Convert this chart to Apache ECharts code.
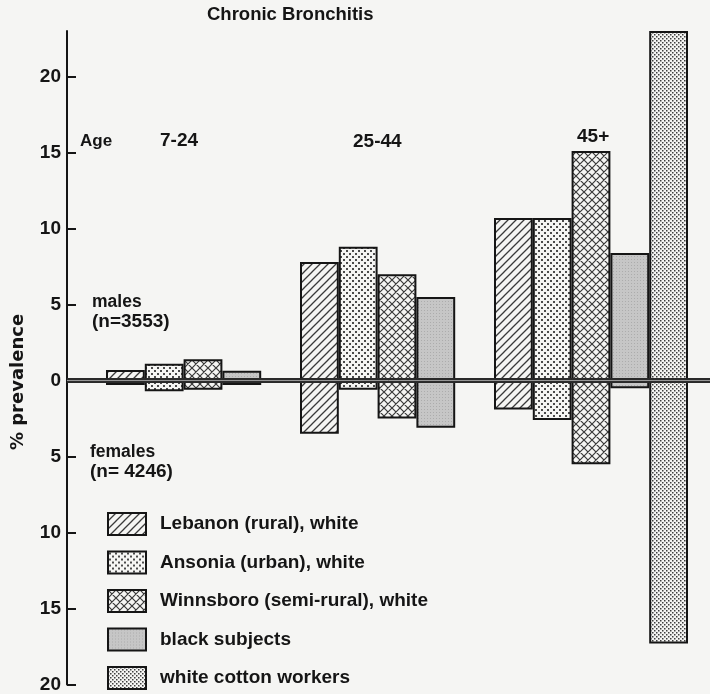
<!DOCTYPE html>
<html><head><meta charset="utf-8">
<script src="https://cdn.jsdelivr.net/npm/echarts@6/dist/echarts.min.js"></script>
<style>html,body{margin:0;padding:0;background:#f5f5f3}#c{width:710px;height:694px}</style>
</head><body><div id="c"></div>
<script>
// ---- data ----
const ageGroups = ['7-24', '25-44', '45+'];
const seriesNames = ['Lebanon (rural), white', 'Ansonia (urban), white', 'Winnsboro (semi-rural), white', 'black subjects', 'white cotton workers'];
const lebanonMales   = [0.7, 7.8, 10.7];
const lebanonFemales = [0.3, 3.5, 1.9];
const ansoniaMales   = [1.1, 8.8, 10.7];
const ansoniaFemales = [0.7, 0.6, 2.6];
const winnsboroMales   = [1.4, 7.0, 15.1];
const winnsboroFemales = [0.6, 2.5, 5.5];
const blackMales   = [0.65, 5.5, 8.4];
const blackFemales = [0.3, 3.1, 0.5];
const cottonMales   = [null, null, 23.0];
const cottonFemales = [null, null, 17.3];
const yTicks = [-20, -15, -10, -5, 0, 5, 10, 15, 20];

// ---- patterns ----
const BG = '#f5f5f3';
function mk(w, h, draw) {
  const c = document.createElement('canvas'); c.width = w; c.height = h;
  const g = c.getContext('2d'); g.fillStyle = BG; g.fillRect(0, 0, w, h); draw(g);
  return { image: c, repeat: 'repeat' };
}
const hatch = mk(8, 8, g => { g.strokeStyle = '#3a3a3a'; g.lineWidth = 1.3; g.beginPath();
  g.moveTo(-1, 9); g.lineTo(9, -1); g.moveTo(-1, 1); g.lineTo(1, -1); g.moveTo(7, 9); g.lineTo(9, 7); g.stroke(); });
const dots = mk(6, 6, g => { g.fillStyle = '#4a4a4a'; g.fillRect(1, 1, 2, 2); g.fillRect(4, 4, 2, 2); });
const cross = mk(8, 8, g => { g.strokeStyle = '#3a3a3a'; g.lineWidth = 1.2; g.beginPath();
  g.moveTo(-1, 9); g.lineTo(9, -1); g.moveTo(-1, 1); g.lineTo(1, -1); g.moveTo(7, 9); g.lineTo(9, 7);
  g.moveTo(-1, -1); g.lineTo(9, 9); g.moveTo(7, -1); g.lineTo(9, 1); g.moveTo(-1, 7); g.lineTo(1, 9); g.stroke(); });
const gray = mk(3, 3, g => { g.fillStyle = '#c6c6c6'; g.fillRect(0, 0, 3, 3); g.fillStyle = '#acacac'; g.fillRect(1, 1, 1, 1); });
const cotton = mk(4, 4, g => { g.fillStyle = '#3e3e3e'; g.fillRect(0, 0, 1.5, 1.5); g.fillRect(2, 2, 1.5, 1.5); });
const fills = [hatch, dots, cross, gray, cotton];

const males = [lebanonMales, ansoniaMales, winnsboroMales, blackMales, cottonMales];
const females = [lebanonFemales, ansoniaFemales, winnsboroFemales, blackFemales, cottonFemales];

const FONT = 'Liberation Sans';
const series = [];
seriesNames.forEach((name, i) => {
  const base = { name, type: 'bar', stack: 's' + i, barGap: '0%', barCategoryGap: '0%',
    itemStyle: { color: fills[i], borderColor: '#151515', borderWidth: 2 }, emphasis: { disabled: true } };
  series.push(Object.assign({}, base, { data: males[i] }));
  series.push(Object.assign({}, base, { data: females[i].map(v => v == null ? null : -v) }));
});

const chart = echarts.init(document.getElementById('c'), null, { renderer: 'canvas' });
const txt = (text, x, y, size, extra) => Object.assign({ type: 'text', x, y, z: 10,
  style: Object.assign({ text, font: 'bold ' + size + 'px "' + FONT + '"', fill: '#151515', textVerticalAlign: 'middle' }, extra || {}) });

chart.setOption({
  animation: false,
  backgroundColor: BG,
  grid: { left: 106, right: 22, top: 31, bottom: 4, containLabel: false },
  xAxis: { type: 'category', data: ageGroups, show: false },
  yAxis: {
    type: 'value', min: -20, max: 23, interval: 5, offset: 39,
    axisLine: { show: true, onZero: false, lineStyle: { color: '#151515', width: 2 } },
    axisTick: { show: true, inside: true, length: 9, customValues: yTicks, lineStyle: { color: '#151515', width: 2 } },
    axisLabel: { customValues: yTicks, formatter: v => String(Math.abs(v)), margin: 6,
      color: '#151515', fontFamily: FONT, fontSize: 19, fontWeight: 'bold' },
    splitLine: { show: false }
  },
  legend: {
    data: seriesNames, orient: 'vertical', left: 107, top: 512, height: 190, padding: 0,
    itemWidth: 38, itemHeight: 22, itemGap: 14.5, icon: 'rect',
    itemStyle: { borderColor: '#151515', borderWidth: 2 },
    textStyle: { fontFamily: FONT, fontSize: 19, fontWeight: 'bold', color: '#151515', padding: [0, 0, 0, 9] },
    selectedMode: false
  },
  series
});

const y0 = chart.convertToPixel({ yAxisIndex: 0 }, 0);
chart.setOption({
  graphic: [
    { type: 'rect', shape: { x: 67, y: y0 - 2.5, width: 643, height: 5 }, style: { fill: '#2a2a2a' }, z: 20 },
    { type: 'line', shape: { x1: 67, y1: y0, x2: 710, y2: y0 }, style: { stroke: '#9a9a9a', lineWidth: 1 }, z: 21 },
    txt('Chronic Bronchitis', 207, 15, 18.5),
    txt('Age', 80, 141, 17),
    txt('7-24', 160, 141, 19),
    txt('25-44', 353, 142, 19),
    txt('45+', 577, 137, 19),
    txt('males', 92, 302, 17.5),
    txt('(n=3553)', 92, 322, 19),
    txt('females', 90, 452, 17.5),
    txt('(n= 4246)', 90, 472, 19),
    { type: 'text', x: 18, y: 382, rotation: Math.PI / 2, z: 10,
      style: { text: '% prevalence', font: 'bold 18px "DejaVu Sans"', fill: '#151515', textAlign: 'center', textVerticalAlign: 'middle' } }
  ]
});
</script></body></html>
